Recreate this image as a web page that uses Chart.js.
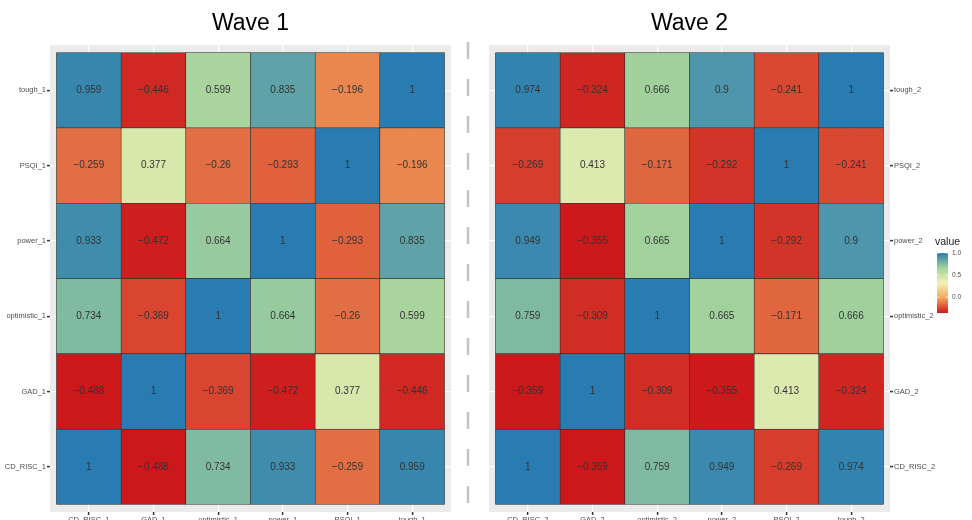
<!DOCTYPE html>
<html>
<head>
<meta charset="utf-8">
<script src="https://cdn.jsdelivr.net/npm/chart.js@4.4.1/dist/chart.umd.min.js"></script>
<style>
  html, body { margin: 0; padding: 0; background: #fff; overflow: hidden; width: 972px; height: 520px; }
  canvas { position: absolute; top: 0; }
  #wave1 { left: 0; }
  #wave2 { left: 460px; }
</style>
</head>
<body>
<canvas id="wave1" width="462" height="530"></canvas>
<canvas id="wave2" width="512" height="530"></canvas>
<script>
// variable names, bottom row first (same order on both axes)
const vars1 = ['CD_RISC_1', 'GAD_1', 'optimistic_1', 'power_1', 'PSQI_1', 'tough_1'];
const vars2 = ['CD_RISC_2', 'GAD_2', 'optimistic_2', 'power_2', 'PSQI_2', 'tough_2'];

// wave 1 correlation rows (columns follow vars1)
const cdRisc1 = [1, -0.488, 0.734, 0.933, -0.259, 0.959];
const gad1 = [-0.488, 1, -0.369, -0.472, 0.377, -0.446];
const optimistic1 = [0.734, -0.369, 1, 0.664, -0.26, 0.599];
const power1 = [0.933, -0.472, 0.664, 1, -0.293, 0.835];
const psqi1 = [-0.259, 0.377, -0.26, -0.293, 1, -0.196];
const tough1 = [0.959, -0.446, 0.599, 0.835, -0.196, 1];

// wave 2 correlation rows (columns follow vars2)
const cdRisc2 = [1, -0.359, 0.759, 0.949, -0.269, 0.974];
const gad2 = [-0.359, 1, -0.309, -0.355, 0.413, -0.324];
const optimistic2 = [0.759, -0.309, 1, 0.665, -0.171, 0.666];
const power2 = [0.949, -0.355, 0.665, 1, -0.292, 0.9];
const psqi2 = [-0.269, 0.413, -0.171, -0.292, 1, -0.241];
const tough2 = [0.974, -0.324, 0.666, 0.9, -0.241, 1];

const legendTicks = [1.0, 0.5, 0.0];

const wave1Rows = [cdRisc1, gad1, optimistic1, power1, psqi1, tough1];
const wave2Rows = [cdRisc2, gad2, optimistic2, power2, psqi2, tough2];

const FONT = '"Liberation Sans", Arial, sans-serif';
const spectral = [[215, 25, 28], [253, 174, 97], [255, 255, 191], [171, 221, 164], [43, 131, 186]];

function fillFor(v, lo, hi) {
	let t = (v - lo) / (hi - lo);
	t = Math.max(0, Math.min(1, t)) * (spectral.length - 1);
	const i = Math.min(Math.floor(t), spectral.length - 2);
	const f = t - i;
	const c = spectral[i].map((a, k) => Math.round((a + (spectral[i + 1][k] - a) * f) * 0.95));
	return `rgb(${c[0]}, ${c[1]}, ${c[2]})`;
}

function fmt(v) {
	return String(v).replace('-', '\u2212');
}

function buildDatasets(rows) {
	const all = rows.flat();
	const lo = Math.min(...all);
	const hi = Math.max(...all);
	return rows.map((vals, r) => ({
		data: vals.map((v, c) => ({ x: c + 0.5, y: [r, r + 1] })),
		values: vals,
		backgroundColor: vals.map((v) => fillFor(v, lo, hi)),
		borderColor: '#2b2b2b',
		borderWidth: 0.6,
		borderSkipped: false,
		barPercentage: 1,
		categoryPercentage: 1,
		grouped: false,
	}));
}

// gray ggplot-style panel
const panelBg = {
	id: 'panelBg',
	beforeDraw(chart) {
		const { ctx, chartArea } = chart;
		ctx.save();
		ctx.fillStyle = '#ebebeb';
		ctx.fillRect(chartArea.left, chartArea.top, chartArea.right - chartArea.left, chartArea.bottom - chartArea.top);
		ctx.restore();
	},
};

// value labels in each tile
const cellText = {
	id: 'cellText',
	afterDatasetsDraw(chart) {
		const { ctx } = chart;
		ctx.save();
		ctx.font = `10px ${FONT}`;
		ctx.fillStyle = '#333';
		ctx.textAlign = 'center';
		ctx.textBaseline = 'middle';
		chart.data.datasets.forEach((ds, i) => {
			chart.getDatasetMeta(i).data.forEach((bar, j) => {
				ctx.fillText(fmt(ds.values[j]), bar.x, (bar.y + bar.base) / 2);
			});
		});
		ctx.restore();
	},
};

// dashed divider and colour bar legend (drawn on the wave 2 canvas)
const extras = {
	id: 'extras',
	afterDraw(chart) {
		const { ctx } = chart;
		ctx.save();
		// divider
		ctx.strokeStyle = '#c4c4c4';
		ctx.lineWidth = 2.5;
		ctx.setLineDash([17, 20]);
		ctx.beginPath();
		ctx.moveTo(8, 42);
		ctx.lineTo(8, 530);
		ctx.stroke();
		ctx.setLineDash([]);

		// colour bar
		const all = wave2Rows.flat();
		const lo = Math.min(...all);
		const hi = Math.max(...all);
		const bx = 477, bw = 11, top = 253, h = 60;
		const grad = ctx.createLinearGradient(0, top, 0, top + h);
		for (let k = 0; k <= 20; k++) {
			grad.addColorStop(k / 20, fillFor(hi - (hi - lo) * k / 20, lo, hi));
		}
		ctx.fillStyle = grad;
		ctx.fillRect(bx, top, bw, h);

		ctx.font = `10.5px ${FONT}`;
		ctx.fillStyle = '#1a1a1a';
		ctx.textAlign = 'left';
		ctx.textBaseline = 'middle';
		ctx.fillText('value', 475, 242);

		ctx.font = `6.5px ${FONT}`;
		ctx.fillStyle = '#4d4d4d';
		legendTicks.forEach((v) => {
			const y = top + (hi - v) / (hi - lo) * h;
			ctx.strokeStyle = '#fff';
			ctx.lineWidth = 0.8;
			ctx.beginPath();
			ctx.moveTo(bx, y);
			ctx.lineTo(bx + 2.5, y);
			ctx.moveTo(bx + bw - 2.5, y);
			ctx.lineTo(bx + bw, y);
			ctx.stroke();
			ctx.fillText(v.toFixed(1), bx + bw + 4, y);
		});
		ctx.restore();
	},
};

function makeChart(id, title, vars, rows, side, padding, extraPlugins) {
	const tickFont = { family: FONT, size: 7.5 };
	const centres = vars.map((_, i) => ({ value: i + 0.5 }));
	const grid = { color: '#fff', lineWidth: 1.2, tickColor: '#333', tickLength: 3, tickWidth: 1.5, offset: false };
	return new Chart(document.getElementById(id), {
		type: 'bar',
		data: { datasets: buildDatasets(rows) },
		options: {
			responsive: false,
			animation: false,
			layout: { padding },
			scales: {
				x: {
					type: 'linear',
					offset: false,
					min: -0.1,
					max: 6.1,
					afterBuildTicks: (scale) => { scale.ticks = centres.map((t) => ({ ...t })); },
					afterFit: (scale) => { scale.height = 18; },
					ticks: {
						callback: (v, i) => vars[i],
						font: tickFont,
						color: '#4d4d4d',
						padding: 0,
						autoSkip: false,
						maxRotation: 0,
					},
					grid,
					border: { display: false },
				},
				y: {
					type: 'linear',
					position: side,
					offset: false,
					min: -0.1,
					max: 6.1,
					afterBuildTicks: (scale) => { scale.ticks = centres.map((t) => ({ ...t })); },
					afterFit: (scale) => { scale.width = side === 'left' ? 50 : 47; },
					ticks: {
						callback: (v, i) => vars[i],
						font: tickFont,
						color: '#4d4d4d',
						padding: 1,
						autoSkip: false,
					},
					grid,
					border: { display: false },
				},
			},
			plugins: {
				legend: { display: false },
				tooltip: { enabled: false },
				title: {
					display: true,
					text: title,
					fullSize: false,
					color: '#000',
					font: { family: FONT, size: 23, weight: 'normal', lineHeight: 1.2 },
					padding: { top: 10, bottom: 7.5 },
				},
			},
		},
		plugins: [panelBg, cellText, ...extraPlugins],
	});
}

makeChart('wave1', 'Wave 1', vars1, wave1Rows, 'left', { left: 0, right: 11, top: 0, bottom: 0 }, []);
makeChart('wave2', 'Wave 2', vars2, wave2Rows, 'right', { left: 29, right: 35, top: 0, bottom: 0 }, [extras]);
</script>
</body>
</html>
